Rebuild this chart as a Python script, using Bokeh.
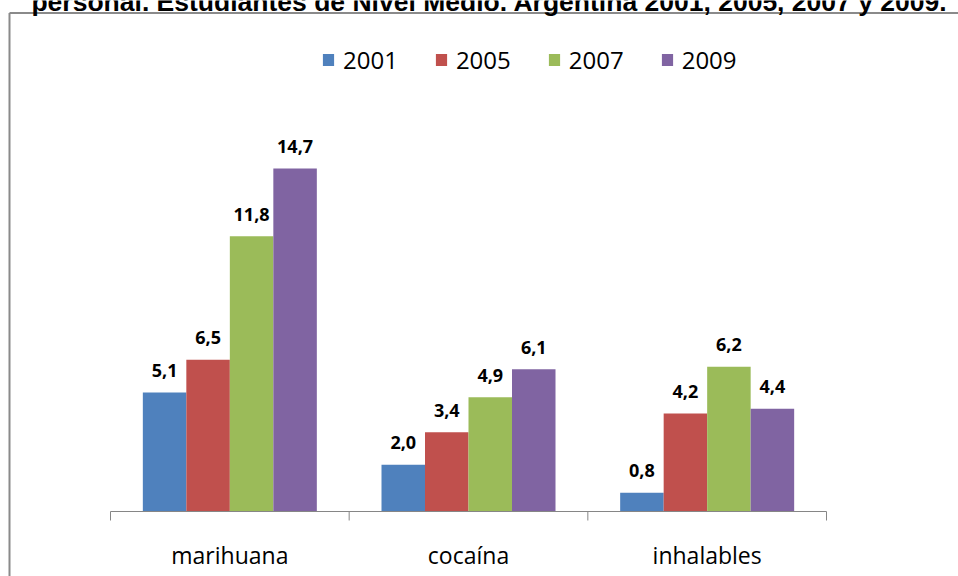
from bokeh.plotting import figure
from bokeh.models import Range1d, Label, Legend, LegendItem
from bokeh.core.properties import value
from bokeh.embed import file_html
from bokeh.resources import INLINE

# ---------------- data ----------------
categories = ["marihuana", "cocaína", "inhalables"]
years = ["2001", "2005", "2007", "2009"]
v2001 = [5.1, 2.0, 0.8]
v2005 = [6.5, 3.4, 4.2]
v2007 = [11.8, 4.9, 6.2]
v2009 = [14.7, 6.1, 4.4]
series = [v2001, v2005, v2007, v2009]
colors = ["#4F81BD", "#C0504D", "#9BBB59", "#8064A2"]
title_text = "personal. Estudiantes de Nivel Medio. Argentina 2001, 2005, 2007 y 2009."

# ---------------- layout ----------------
W, H = 958, 576
AX_LEFT, AX_RIGHT, AX_BASE = 110, 826, 511
PX_PER_UNIT_Y = 23.33
n = len(categories)
px_x = (AX_RIGHT - AX_LEFT) / n
x_start = -AX_LEFT / px_x
x_end = n + (W - AX_RIGHT) / px_x
y_start = -(H - AX_BASE) / PX_PER_UNIT_Y
y_end = AX_BASE / PX_PER_UNIT_Y

def px2x(px):
    return x_start + px / px_x

def py2y(py):
    return y_end - py / PX_PER_UNIT_Y

p = figure(width=W, height=H,
           x_range=Range1d(x_start, x_end), y_range=Range1d(y_start, y_end),
           output_backend="svg", toolbar_location=None,
           x_axis_location=None, y_axis_location=None,
           min_border=0, min_border_left=0, min_border_right=0,
           min_border_top=0, min_border_bottom=0)
p.grid.visible = False
p.outline_line_color = None
p.background_fill_color = "white"
p.border_fill_color = "white"

# outer chart border (left and top visible)
bx = px2x(9)
by = py2y(12.5)
p.segment(x0=[bx, bx], y0=[y_start, by], x1=[bx, x_end], y1=[by, by],
          line_color="#8A8A8A", line_width=2)

bar_w = 43.5 / px_x
legend_items = []
for j, (yr, vals, col) in enumerate(zip(years, series, colors)):
    xs = [i + 0.5 + (j - 1.5) * bar_w for i in range(n)]
    r = p.vbar(x=xs, top=vals, bottom=0, width=bar_w, fill_color=col, line_color=None)
    legend_items.append(LegendItem(label=yr, renderers=[r]))
    p.text(x=xs, y=vals, text=[f"{v:.1f}".replace(".", ",") for v in vals],
           y_offset=-22, text_align="center", text_baseline="alphabetic",
           text_font=value("Open Sans"), text_font_style="bold",
           text_font_size="18px", text_color="black")

# category axis line + boundary ticks
p.segment(x0=[0], y0=[0], x1=[n], y1=[0], line_color="#868686", line_width=1)
tick_len = 9 / PX_PER_UNIT_Y
p.segment(x0=list(range(n + 1)), y0=[0] * (n + 1), x1=list(range(n + 1)),
          y1=[-tick_len] * (n + 1), line_color="#868686", line_width=1)

p.text(x=[i + 0.5 for i in range(n)], y=[0] * n, text=categories,
       y_offset=43, text_align="center", text_baseline="alphabetic",
       text_font=value("Open Sans"), text_font_size="23px", text_color="black")

legend = Legend(items=legend_items, orientation="horizontal",
                location=(321, H - 54 - 22),
                glyph_width=14, glyph_height=15, label_standoff=8, spacing=36,
                padding=0, margin=0, border_line_color=None,
                background_fill_alpha=0,
                label_text_font="Open Sans", label_text_font_size="24px",
                label_text_color="black")
p.add_layout(legend)

title = Label(x=px2x(489), y=py2y(1.5), text=title_text,
              text_align="center", text_baseline="alphabetic",
              text_font="Liberation Sans", text_font_style="bold",
              text_font_size="26.5px", text_color="black")
p.add_layout(title)

open("out.html", "w").write(file_html(p, INLINE))
